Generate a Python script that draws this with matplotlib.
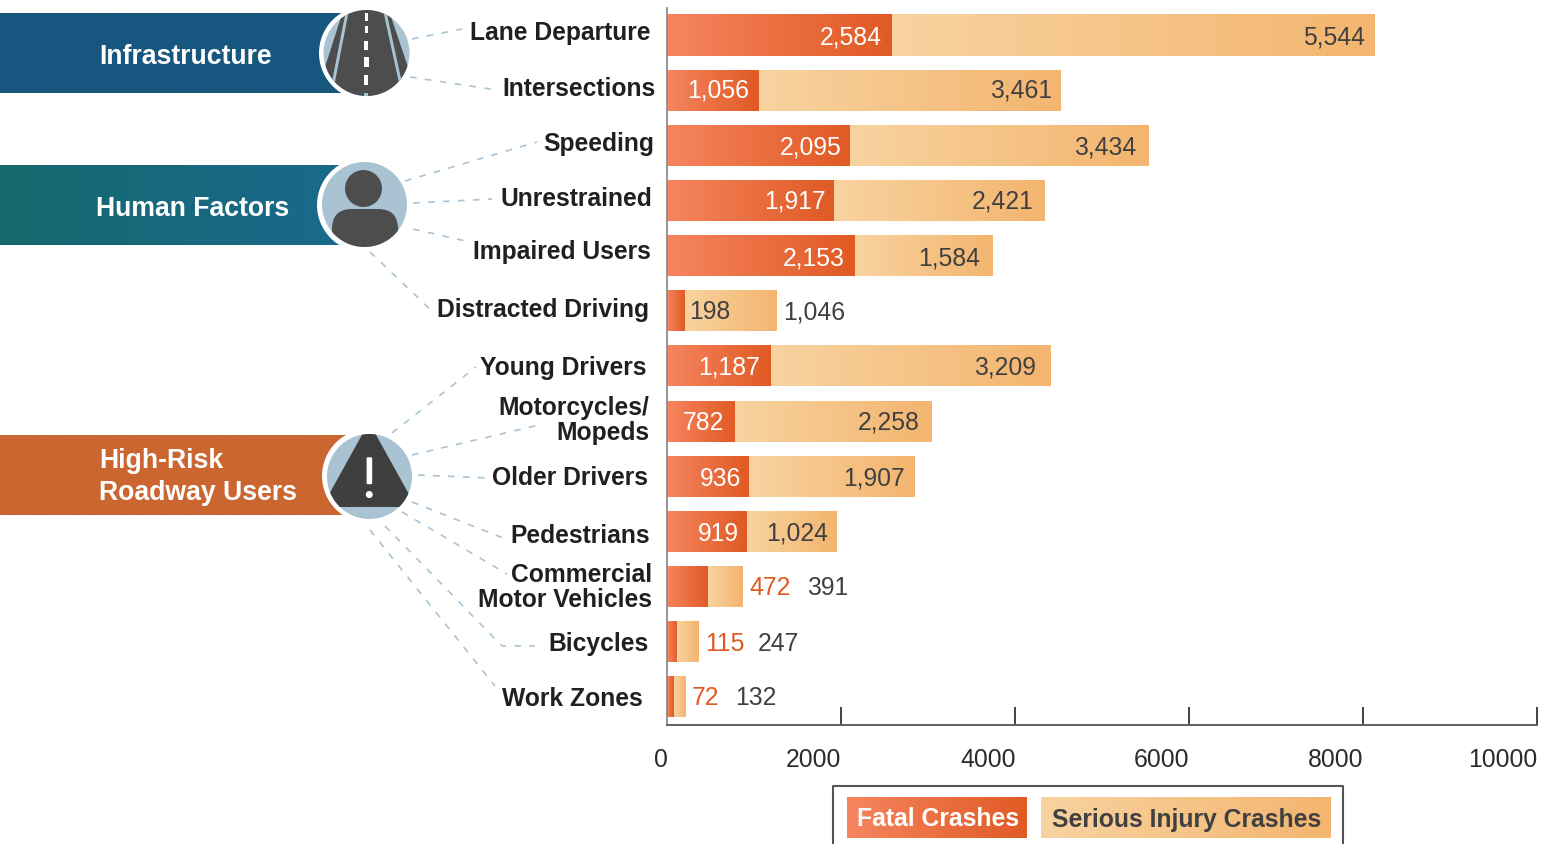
import numpy as np
import matplotlib
matplotlib.use("Agg")
import matplotlib.pyplot as plt
from matplotlib.colors import LinearSegmentedColormap
from matplotlib.patches import Circle, Polygon, Rectangle, FancyBboxPatch

plt.rcParams['font.family'] = ['Liberation Sans', 'DejaVu Sans']

# data
categories = ["Lane Departure", "Intersections", "Speeding", "Unrestrained", "Impaired Users",
              "Distracted Driving", "Young Drivers", "Motorcycles/\nMopeds", "Older Drivers",
              "Pedestrians", "Commercial\nMotor Vehicles", "Bicycles", "Work Zones"]
fatal = [2584, 1056, 2095, 1917, 2153, 198, 1187, 782, 936, 919, 472, 115, 72]
serious = [5544, 3461, 3434, 2421, 1584, 1046, 3209, 2258, 1907, 1024, 391, 247, 132]
xticks = [0, 2000, 4000, 6000, 8000, 10000]
groups = ["Infrastructure", "Human Factors", "High-Risk\nRoadway Users"]
legend_names = ["Fatal Crashes", "Serious Injury Crashes"]

# layout, in pixels of the picture
label_right = [650, 656, 654, 652, 651, 649, 646, 649, 648, 650, 652, 649, 643]
label_y = [33, 89, 144, 199, 252, 310, 368, 420.5, 478, 536, 587.5, 644, 699]
leaders = [[(412, 39), (462, 29)], [(410, 77), (497, 90)], [(405, 181), (537, 142)],
           [(413, 203), (492, 199)], [(413, 229), (470, 242)], [(370, 252), (433, 312)],
           [(392, 433), (476, 367)], [(412, 455), (543, 424)], [(418, 475), (488, 478)],
           [(412, 502), (503, 538)], [(402, 512), (507, 574)],
           [(385, 526), (502, 646), (535, 646)], [(370, 530), (495, 686)]]
# distance of each value label from the end of its bar
fatal_gap = [10, 10, 8, 8, 10, 4, 11, 11, 8, 8, 7, 6, 7]
serious_gap = [10, 8, 12, 11, 12, 7, 14, 12, 10, 8, 65, 59, 50]
value_dy = [1, -1, 1, 0, 1, 0, 0, 0, 1, 1, 0, 1, 0]

W, H = 1555, 844
DARK = "#404040"
ORANGE = "#e05a24"
BLUE_GREY = "#aac3d2"
LEADER = "#a9c4d6"
PX = 0.72

fatal_cmap = LinearSegmentedColormap.from_list("fatal", ["#f6855f", "#e05a24"])
serious_cmap = LinearSegmentedColormap.from_list("serious", ["#f8d3a0", "#f3b56f"])
human_cmap = LinearSegmentedColormap.from_list("human", ["#14696c", "#1a6a90"])
infra_cmap = LinearSegmentedColormap.from_list("infra", ["#17577f", "#17577f"])
risk_cmap = LinearSegmentedColormap.from_list("risk", ["#cb6630", "#cb6630"])


# Paint a left to right gradient over a patch that is already on the axes.
def paint(ax, patch, cmap):
    box = patch.get_bbox()
    im = ax.imshow(np.linspace(0, 1, 256).reshape(1, -1), cmap=cmap, aspect="auto",
                   extent=[box.x0, box.x1, box.y1, box.y0], zorder=patch.get_zorder())
    im.set_clip_path(patch)


# Add a patch to the overlay, cut to the icon's disc when one is given.
def add(patch, clip=None):
    bg.add_patch(patch)
    if clip is not None:
        patch.set_clip_path(clip)


# White ring plus blue-grey disc behind each icon.
def disc_at(ring_xy, disc_xy, r):
    add(Circle(ring_xy, 47, facecolor="white", edgecolor="none", zorder=3))
    disc = Circle(disc_xy, r, facecolor=BLUE_GREY, edgecolor="none", zorder=4)
    add(disc)
    return disc


fig = plt.figure(figsize=(W / 100, H / 100), dpi=100)

# overlay in pixel coordinates for the left panel and the legend
bg = fig.add_axes([0, 0, 1, 1])
bg.set_xlim(0, W)
bg.set_ylim(H, 0)
bg.axis("off")

ax = fig.add_axes([667.4 / W, (H - 725) / H, 870 / W, 717 / H])
ax.patch.set_alpha(0)

# bars
y = np.arange(len(categories))
left_bars = ax.barh(y, fatal, height=0.745, color="none")
right_bars = ax.barh(y, serious, left=fatal, height=0.745, color="none")
for b in left_bars:
    paint(ax, b, fatal_cmap)
for b in right_bars:
    paint(ax, b, serious_cmap)

ax.set_xlim(0, 10000)
ax.set_ylim(12.51, -0.49)

# value labels
for i in y:
    f_end = fatal[i]
    s_end = fatal[i] + serious[i]
    yoff = (-1.5 - value_dy[i]) * PX
    if fatal[i] >= 700:
        ax.annotate(f"{fatal[i]:,}", (f_end, i), xytext=(-fatal_gap[i] * PX, yoff),
                    textcoords="offset points", ha="right", va="center", color="white", fontsize=17.8)
    elif fatal[i] == 198:
        ax.annotate(f"{fatal[i]:,}", (f_end, i), xytext=(fatal_gap[i] * PX, yoff),
                    textcoords="offset points", ha="left", va="center", color=DARK, fontsize=17.8)
    else:
        ax.annotate(f"{fatal[i]:,}", (s_end, i), xytext=(fatal_gap[i] * PX, yoff),
                    textcoords="offset points", ha="left", va="center", color=ORANGE, fontsize=17.8)
    if fatal[i] == 198 or serious[i] < 1000:
        ax.annotate(f"{serious[i]:,}", (s_end, i), xytext=(serious_gap[i] * PX, yoff),
                    textcoords="offset points", ha="left", va="center", color=DARK, fontsize=17.8)
    else:
        ax.annotate(f"{serious[i]:,}", (s_end, i), xytext=(-serious_gap[i] * PX, yoff),
                    textcoords="offset points", ha="right", va="center", color=DARK, fontsize=17.8)

# axes
for side in ["top", "right"]:
    ax.spines[side].set_visible(False)
ax.spines["left"].set_color("#8c8c8c")
ax.spines["left"].set_linewidth(1.3)
ax.spines["bottom"].set_color("#555555")
ax.spines["bottom"].set_linewidth(1.3)
ax.set_yticks([])
ax.set_xticks(xticks)
ax.set_xticklabels([str(t) for t in xticks], ha="right", fontsize=17.8, color="#2b2b2b")
ax.tick_params(axis="x", direction="in", length=13, width=1.3, color="#333333", pad=16.7)
ax.xaxis.get_major_ticks()[0].tick1line.set_visible(False)

# leader lines
for pts in leaders:
    xs, ys = zip(*pts)
    bg.plot(xs, ys, color=LEADER, lw=1.2, dashes=(4, 5), zorder=1)

# category labels
for name, xr, yc in zip(categories, label_right, label_y):
    bg.text(xr, yc, name, ha="right", va="center", fontsize=17.7, fontweight="bold",
            color="#231f20", linespacing=1.04)

# coloured bands
band_tops = [13, 165, 435]
band_cmaps = [infra_cmap, human_cmap, risk_cmap]
for top, cmap in zip(band_tops, band_cmaps):
    r = Rectangle((0, top), 365, 80, facecolor="none", edgecolor="none", zorder=2)
    bg.add_patch(r)
    paint(bg, r, cmap)
bg.set_xlim(0, W)
bg.set_ylim(H, 0)

bg.text(99, 56.5, groups[0], color="white", fontsize=19.2, fontweight="bold", va="center")
bg.text(96, 208.5, groups[1], color="white", fontsize=19.2, fontweight="bold", va="center")
bg.text(99, 477, groups[2], color="white", fontsize=19.2, fontweight="bold", va="center",
        linespacing=1.3)

# road icon
disc = disc_at((366, 53), (366.5, 53), 43)
add(Polygon([(344, 8), (388, 8), (408, 67), (430, 110), (300, 110), (325, 67)],
            facecolor="#4d4d4d", edgecolor="none", zorder=5), disc)
add(Polygon([(346, 10), (349, 10), (333, 92), (330, 92)], facecolor=BLUE_GREY,
            edgecolor="none", zorder=6), disc)
add(Polygon([(383, 10), (386, 10), (404, 92), (401, 92)], facecolor=BLUE_GREY,
            edgecolor="none", zorder=6), disc)
dash_tops = [13, 26, 41, 57, 75, 93]
dash_ends = [21, 33, 50, 67, 85, 97]
dash_wide = [3, 3, 4, 5, 4, 4]
for d0, d1, wd in zip(dash_tops, dash_ends, dash_wide):
    add(Rectangle((366.3 - wd / 2, d0), wd, d1 - d0, facecolor="white" if d0 < 90 else BLUE_GREY,
                  edgecolor="none", zorder=7), disc)

# person icon
disc = disc_at((364, 205), (364.5, 204.5), 42.5)
add(Circle((363.5, 188.5), 18.5, facecolor="#4d4d4d", edgecolor="none", zorder=5))
add(FancyBboxPatch((332, 209), 66, 60, boxstyle="round,pad=0,rounding_size=20",
                   facecolor="#4d4d4d", edgecolor="none", zorder=5), disc)

# warning icon
disc = disc_at((369, 476), (369.5, 476.5), 42.5)
add(Polygon([(363, 433), (375, 433), (416, 507), (322, 507)], facecolor="#3f3f3f",
            edgecolor="none", zorder=5), disc)
add(FancyBboxPatch((367.8, 458.5), 3.2, 24.5, boxstyle="round,pad=1.2", facecolor="white",
                   edgecolor="none", zorder=6))
add(Circle((369.3, 494.5), 3.5, facecolor="white", edgecolor="none", zorder=6))

# legend box, runs off the bottom of the picture
bg.plot([833, 833, 1343, 1343], [H + 5, 786, 786, H + 5], color="#555555", lw=1.5, zorder=2)
swatches = [(847, 180, fatal_cmap), (1041, 290, serious_cmap)]
for (x0, w, cmap), name, col in zip(swatches, legend_names, ["white", DARK]):
    r = Rectangle((x0, 797), w, 41, facecolor="none", edgecolor="none", zorder=3)
    bg.add_patch(r)
    paint(bg, r, cmap)
    bg.text(x0 + w / 2 + 1, 819.5, name, ha="center", va="center", fontsize=17.8, fontweight="bold",
            color=col, zorder=4)
bg.set_xlim(0, W)
bg.set_ylim(H, 0)

fig.savefig("out.png", dpi=100)
